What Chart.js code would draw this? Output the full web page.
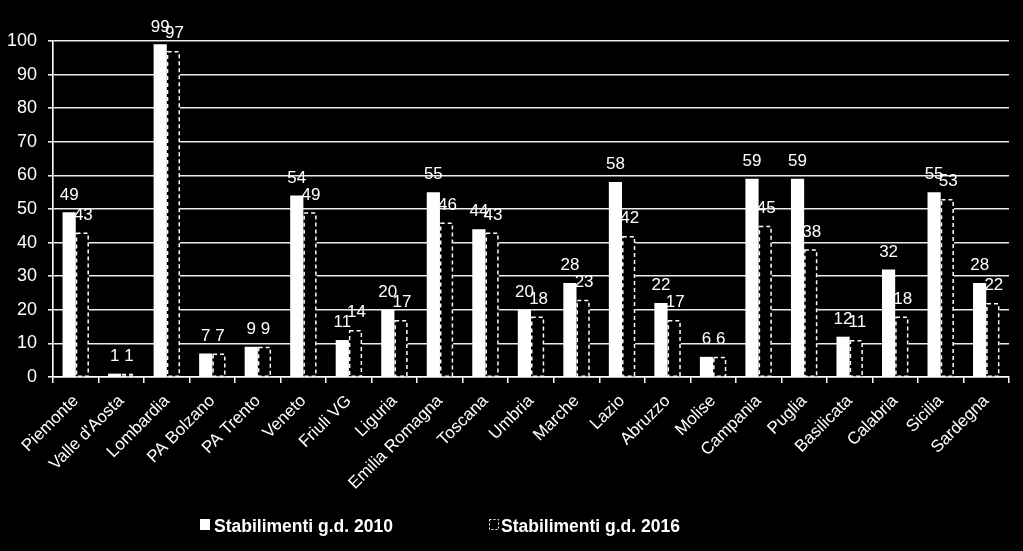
<!DOCTYPE html>
<html>
<head>
<meta charset="utf-8">
<script src="https://cdn.jsdelivr.net/npm/chart.js@4.4.0/dist/chart.umd.min.js"></script>
<style>
  html, body { margin: 0; padding: 0; background: #000; }
  #wrap { width: 1023px; height: 551px; position: relative; }
</style>
</head>
<body>
<div id="wrap"><canvas id="c"></canvas></div>
<script>
const categories = ["Piemonte", "Valle d'Aosta", "Lombardia", "PA Bolzano", "PA Trento", "Veneto", "Friuli VG", "Liguria", "Emilia Romagna", "Toscana", "Umbria", "Marche", "Lazio", "Abruzzo", "Molise", "Campania", "Puglia", "Basilicata", "Calabria", "Sicilia", "Sardegna"];
const values2010 = [49, 1, 99, 7, 9, 54, 11, 20, 55, 44, 20, 28, 58, 22, 6, 59, 59, 12, 32, 55, 28];
const values2016 = [43, 1, 97, 7, 9, 49, 14, 17, 46, 43, 18, 23, 42, 17, 6, 45, 38, 11, 18, 53, 22];
const seriesNames = ["Stabilimenti g.d. 2010", "Stabilimenti g.d. 2016"];
const yTicks = { min: 0, max: 100, step: 10 };

const FONT = "'Liberation Sans', Arial, Helvetica, sans-serif";
Chart.defaults.font.family = FONT;
Chart.defaults.color = '#fff';

const dashedBars = {
  id: 'dashedBars',
  afterDatasetsDraw(chart) {
    const ctx = chart.ctx;
    const meta = chart.getDatasetMeta(1);
    ctx.save();
    ctx.strokeStyle = '#fff';
    ctx.lineWidth = 1.5;
    ctx.setLineDash([4, 3]);
    meta.data.forEach(el => {
      const p = el.getProps(['x', 'y', 'base', 'width'], true);
      const l = p.x - p.width / 2 + 0.75;
      ctx.strokeRect(l, p.y + 0.75, p.width - 1.5, p.base - p.y - 0.75);
    });
    ctx.restore();
  }
};

const valueLabels = {
  id: 'valueLabels',
  afterDatasetsDraw(chart) {
    const ctx = chart.ctx;
    ctx.save();
    ctx.fillStyle = '#fff';
    ctx.font = '17px ' + FONT;
    ctx.textAlign = 'center';
    ctx.textBaseline = 'bottom';
    chart.data.datasets.forEach((ds, di) => {
      const meta = chart.getDatasetMeta(di);
      meta.data.forEach((el, i) => {
        const p = el.getProps(['x', 'y'], true);
        ctx.fillText(String(ds.data[i]), p.x + (di === 1 ? 1 : 0), p.y - 9);
      });
    });
    ctx.restore();
  }
};

const customLegend = {
  id: 'customLegend',
  afterDraw(chart) {
    const ctx = chart.ctx;
    ctx.save();
    ctx.font = 'bold 17.5px ' + FONT;
    ctx.textBaseline = 'alphabetic';
    ctx.fillStyle = '#fff';
    const yBase = 532;
    ctx.fillRect(200, 519, 10, 11);
    ctx.fillText(seriesNames[0], 214, yBase);
    ctx.strokeStyle = '#fff';
    ctx.lineWidth = 1;
    ctx.setLineDash([2, 2]);
    ctx.strokeRect(489.5, 519.5, 9, 10);
    ctx.setLineDash([]);
    ctx.fillText(seriesNames[1], 501, yBase);
    ctx.restore();
  }
};

new Chart(document.getElementById('c'), {
  type: 'bar',
  data: {
    labels: categories,
    datasets: [
      { label: seriesNames[0], data: values2010, backgroundColor: '#fff', borderWidth: 0,
        categoryPercentage: 0.58, barPercentage: 1.0 },
      { label: seriesNames[1], data: values2016, backgroundColor: '#000', borderWidth: 0,
        categoryPercentage: 0.58, barPercentage: 1.0 }
    ]
  },
  options: {
    responsive: true,
    maintainAspectRatio: false,
    devicePixelRatio: 1,
    animation: false,
    layout: { padding: { top: 41, right: 14, bottom: 49, left: 0 } },
    plugins: { legend: { display: false }, tooltip: { enabled: false } },
    scales: {
      x: {
        grid: { display: true, drawOnChartArea: false, drawTicks: true, tickLength: 6, color: '#fff', lineWidth: 1.5, offset: true },
        border: { display: true, color: '#fff', width: 1.5 },
        ticks: { color: '#fff', font: { size: 17 }, maxRotation: 45, minRotation: 45, autoSkip: false, padding: 8 },
        afterFit(scale) { scale.height = 125; }
      },
      y: {
        min: yTicks.min, max: yTicks.max,
        grid: { color: '#ececec', lineWidth: 1.6, tickLength: 5 },
        border: { display: true, color: '#fff', width: 1.6 },
        ticks: { stepSize: yTicks.step, color: '#fff', font: { size: 18 }, padding: 11 },
        afterFit(scale) { scale.width = 53; }
      }
    }
  },
  plugins: [dashedBars, valueLabels, customLegend]
});
</script>
</body>
</html>
